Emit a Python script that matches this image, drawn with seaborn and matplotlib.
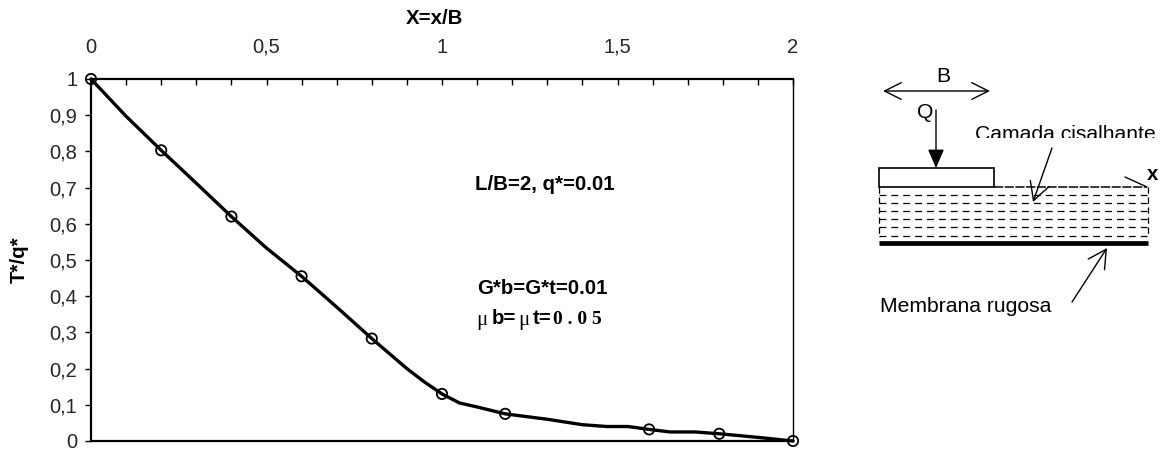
import numpy as np
import matplotlib.pyplot as plt
import matplotlib.patches as mpatches
import pandas as pd
import seaborn as sns

# curve and the marked points
curve_x = [0, 0.1, 0.2, 0.3, 0.4, 0.5, 0.6, 0.7, 0.8, 0.9, 0.95, 1.0, 1.05, 1.1, 1.18, 1.3, 1.4, 1.47, 1.53, 1.59, 1.65, 1.72, 1.79, 1.9, 2.0]
curve_y = [1.0, 0.897, 0.803, 0.712, 0.62, 0.533, 0.455, 0.37, 0.283, 0.2, 0.163, 0.13, 0.105, 0.094, 0.075, 0.06, 0.045, 0.04, 0.04, 0.032, 0.025, 0.025, 0.02, 0.01, 0.0]
mark_x = [0, 0.2, 0.4, 0.6, 0.8, 1.0, 1.18, 1.59, 1.79, 2.0]
mark_y = [1.0, 0.803, 0.62, 0.455, 0.283, 0.13, 0.075, 0.032, 0.02, 0.0]
x_ticks = np.arange(0, 2.01, 0.1)
x_labels = ["0", "0,5", "1", "1,5", "2"]
y_labels = ["0", "0,1", "0,2", "0,3", "0,4", "0,5", "0,6", "0,7", "0,8", "0,9", "1"]

sns.set_style("white")
plt.rcParams['font.family'] = ['Liberation Sans', 'DejaVu Sans']

W, H = 1172, 450
fig = plt.figure(figsize=(W / 100, H / 100), dpi=100)
ax = fig.add_axes([91 / W, 1 - 441 / H, (793 - 91) / W, (441 - 79) / H])

curve = pd.DataFrame({"X": curve_x, "T": curve_y})
marks = pd.DataFrame({"X": mark_x, "T": mark_y})
sns.lineplot(data=curve, x="X", y="T", color="black", linewidth=2.4, sort=False, ax=ax, clip_on=False)
sns.scatterplot(data=marks, x="X", y="T", s=55, facecolor="none", edgecolor="black", linewidth=1.3, ax=ax, clip_on=False, zorder=5)

ax.set_xlim(0, 2)
ax.set_ylim(0, 1)
ax.xaxis.tick_top()
ax.set_xticks(x_ticks)
ax.set_xticklabels([x_labels[i // 5] if i % 5 == 0 else "" for i in range(len(x_ticks))])
ax.set_yticks(np.arange(0, 1.01, 0.1))
ax.set_yticklabels(y_labels)
ax.tick_params(axis="x", direction="in", length=4, width=1, pad=16, labelsize=14.5, color="black", top=True, bottom=False)
ax.tick_params(axis="y", direction="out", length=4.3, width=1, pad=5.5, labelsize=14.5, color="black", left=True)
ax.set_xlabel("")
ax.set_ylabel("")
for side, lw in [("top", 1.6), ("left", 1.6), ("bottom", 1.6), ("right", 1.0)]:
    ax.spines[side].set_visible(True)
    ax.spines[side].set_color("black")
    ax.spines[side].set_linewidth(lw)

# overlay in pixel units for the labels and the sketch on the right
ov = fig.add_axes([0, 0, 1, 1], facecolor="none")
ov.set_xlim(0, W)
ov.set_ylim(H, 0)
ov.axis("off")

bold = dict(fontweight="bold", fontsize=14.7, color="black", va="center")
serif = dict(family="Liberation Serif", color="black", va="center", ha="left")
ov.text(435, 18, "X=x/B", ha="center", **bold)
ov.text(19, 260, "T*/q*", ha="center", rotation=90, **bold)
ov.text(475, 185, "L/B=2, q*=0.01", ha="left", **bold)
ov.text(477, 289, "G*b=G*t=0.01", ha="left", **bold)
ov.text(476, 321, "μ", fontsize=15, **serif)
ov.text(492, 319, "b=", ha="left", **bold)
ov.text(518, 321, "μ", fontsize=15, **serif)
ov.text(533, 319, "t=", ha="left", **bold)
ov.text(553, 320, "0 . 0 5", fontsize=14, fontweight="bold", **serif)

# sketch
ov.add_patch(mpatches.Rectangle((879, 168), 115, 19, fill=False, ec="black", lw=1.2))
ov.plot([994, 1147], [187, 187], color="black", lw=1.1, ls=(0, (6, 1)))
for y in [195, 203, 211, 219, 227, 236]:
    ov.plot([879, 1147], [y, y], color="black", lw=0.9, ls=(0, (5.5, 4)))
ov.plot([879, 879], [187, 236], color="black", lw=0.9, ls=(0, (5, 3)))
ov.plot([1147.5, 1147.5], [187, 236], color="black", lw=0.9, ls=(0, (5, 3)))
ov.plot([879, 1147.5], [243, 243], color="black", lw=3.4, solid_capstyle="butt")
ov.plot([1125, 1147], [177, 187], color="black", lw=1)

ov.annotate("", xy=(883, 91), xytext=(990, 91), arrowprops=dict(arrowstyle="<->,head_length=1.2,head_width=0.6", mutation_scale=10, color="black", lw=1, shrinkA=0, shrinkB=0))
ov.annotate("", xy=(936, 168), xytext=(936, 110), arrowprops=dict(arrowstyle="-|>,head_length=1.15,head_width=0.5", mutation_scale=10, fc="black", ec="black", lw=1, shrinkA=0, shrinkB=0))
ov.annotate("", xy=(1033, 202), xytext=(1052, 148), arrowprops=dict(arrowstyle="->,head_length=1.3,head_width=0.7", mutation_scale=10, color="black", lw=1, shrinkA=0, shrinkB=0))
ov.annotate("", xy=(1107, 248), xytext=(1072, 302), arrowprops=dict(arrowstyle="->,head_length=1.3,head_width=0.7", mutation_scale=10, color="black", lw=1, shrinkA=0, shrinkB=0))

big = dict(fontsize=15.2, color="black", va="center")
ov.text(943, 76, "B", ha="center", **big)
ov.text(925, 113, "Q", ha="center", **big)
camada = ov.text(975, 135, "Camada cisalhante", ha="left", **big)
camada.set_clip_path(mpatches.Rectangle((970, 115), 200, 23, transform=ov.transData))
camada.set_clip_on(True)
ov.text(1153, 174, "x", ha="center", va="center", fontsize=14.7, fontweight="bold", color="black")
ov.text(880, 307, "Membrana rugosa", ha="left", **big)

fig.savefig("out.png", dpi=100)
